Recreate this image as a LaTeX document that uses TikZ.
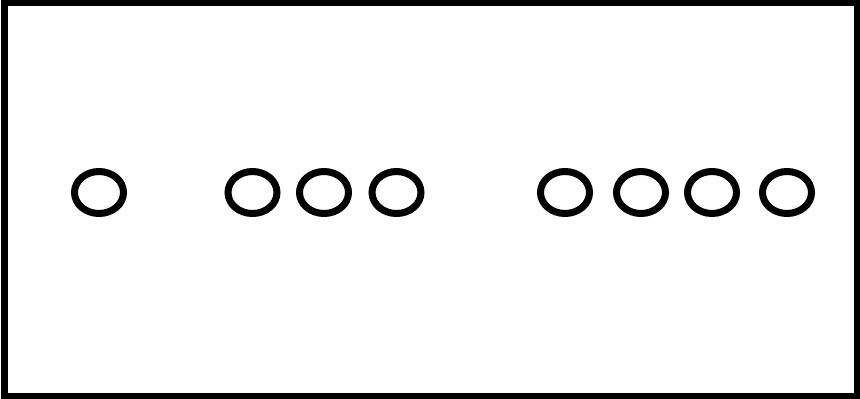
\documentclass[tikz,border=0pt]{standalone}
\usetikzlibrary{shapes.geometric}
\tikzset{
  ring/.style={draw=black, line width=7pt, ellipse, inner sep=0pt, minimum width=49pt, minimum height=42pt},
  frame/.style={draw=black, line width=6.5pt}
}
\begin{document}
\begin{tikzpicture}[x=1pt,y=-1pt]
\useasboundingbox (0,0) rectangle (860,399);
\draw[frame] (4.5,3.2) rectangle (857,396);
\node[ring] (a1) at (99,192.5) {};
\node[ring] (b1) at (252.5,192.5) {};
\node[ring] (b2) at (324,192.5) {};
\node[ring] (b3) at (396.5,192.5) {};
\node[ring] (c1) at (565,192.5) {};
\node[ring] (c2) at (641,192.5) {};
\node[ring] (c3) at (712,192.5) {};
\node[ring] (c4) at (787,192.5) {};
\end{tikzpicture}
\end{document}
